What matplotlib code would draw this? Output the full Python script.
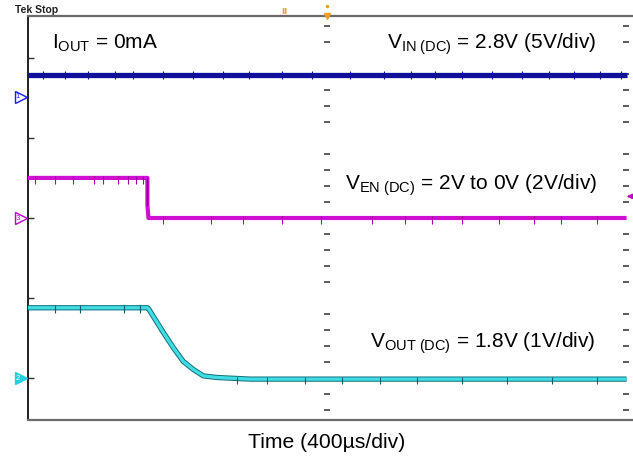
import numpy as np
import matplotlib.pyplot as plt
from matplotlib import transforms

plt.rcParams['font.family'] = ['Liberation Sans', 'DejaVu Sans']
plt.rcParams['mathtext.fontset'] = 'custom'
plt.rcParams['mathtext.rm'] = 'Liberation Sans'
plt.rcParams['mathtext.it'] = 'Liberation Sans'

# time base: 400 us/div, screen positions in divisions
t_vin = [-2000, 2000]
vin_div = [1.78, 1.78]

t_en = [-2000, -1202, -1202, -1195, 2000]
en_div = [0.50, 0.50, 0.16, 0.0, 0.0]

t_out = [-2000, -1202, -1195, -1162, -1095, -1028, -962, -895, -828, -735, -514, 2000]
out_div = [-1.12, -1.12, -1.13, -1.23, -1.43, -1.62, -1.79, -1.89, -1.97, -1.99, -2.01, -2.01]

# hand-read glitch positions (us) on each trace
vin_glitch = [-1900, -1750, -1600, -1420, -1300, -1100, -900, -700, -520, -300, -100, 150,
              380, 560, 720, 900, 1100, 1300, 1480, 1650, 1820, 1960]
en_glitch = [-1950, -1820, -1700, -1560, -1500, -1400, -1330, -1280, -1230,
             -1100, -780, -560, -300, -40, 300, 520, 700, 900, 1150, 1380, 1560, 1800]
out_glitch = [-1820, -1650, -1360, -1250, -600, -400, -150, 100, 350, 600, 900, 1200, 1500, 1800]

ch_markers = {'1': (1.51, '#1a1aff'), '3': (0.0, '#c000c0'), '2': (-2.0, '#20d0e0')}

fig = plt.figure(figsize=(6.33, 4.59), dpi=100)
ax = fig.add_axes([28 / 633, 39 / 459, 605 / 633, 404 / 459])
ax.set_xlim(-2000, 2043)
ax.set_ylim(-2.52, 2.52)

# traces
ax.plot(t_vin, vin_div, color='#10109c', lw=3.8, solid_capstyle='butt', zorder=3)
ax.vlines(vin_glitch, 1.74, 1.83, color='#10109c', lw=0.8, zorder=3)

ax.plot(t_en, en_div, color='#d010d0', lw=3.0, solid_capstyle='butt', zorder=3)
ax.plot(t_en[1:3], en_div[1:3], color='#700070', lw=1.0, zorder=4)
for g in en_glitch:
    lvl = 0.5 if g < -1202 else 0.0
    ax.vlines(g, lvl - 0.07, lvl + 0.03, color='#a000a0', lw=0.8, zorder=3)

ax.plot(t_out, out_div, color='#10707a', lw=3.8, solid_capstyle='butt', zorder=3)
ax.plot(t_out, out_div, color='#40dce4', lw=2.4, solid_capstyle='butt', zorder=3)
for g in out_glitch:
    lvl = -1.12 if g < -1202 else -2.01
    ax.vlines(g, lvl - 0.06, lvl + 0.03, color='#10606a', lw=0.8, zorder=3)

# graticule ticks on centre line and right edge
minor = [v for v in np.arange(-2.4, 2.41, 0.2) if abs(v - round(v)) > 0.05]
for xc in [0, 1995]:
    ax.plot([xc] * len(minor), minor, ls='none', marker='_', ms=4, mew=1.2,
            color='#404040', zorder=2)

ax.set_xticks([])
ax.set_yticks([-2, -1, 0, 1, 2])
ax.tick_params(axis='y', direction='in', length=4, width=1, color='#303030', labelleft=False)

ax.spines['right'].set_visible(False)
ax.spines['left'].set_color('#202020')
ax.spines['left'].set_linewidth(1.4)
ax.spines['top'].set_color('#6a6a6a')
ax.spines['top'].set_linewidth(1.6)
ax.spines['bottom'].set_color('#6a6a6a')
ax.spines['bottom'].set_linewidth(1.6)

# channel ground markers
tr = transforms.blended_transform_factory(ax.transAxes, ax.transData)
for name, (lvl, col) in ch_markers.items():
    filled = name == '2'
    ax.plot(-0.012, lvl, marker='>', ms=8, mfc=col if filled else 'white', mec=col,
            mew=1, transform=tr, clip_on=False, zorder=5)
    ax.text(-0.017, lvl, name, transform=tr, ha='center', va='center', fontsize=5.5,
            color='white' if filled else col, clip_on=False, zorder=6)
ax.annotate('', xy=(0.985, 0.27), xytext=(1.0, 0.27), xycoords=('axes fraction', 'data'),
            arrowprops=dict(arrowstyle='-|>', color='#c000c0', lw=1.2, mutation_scale=7))

# trigger markers at top
ax.plot(0, 2.52, marker='v', ms=4, color='#f0a020', clip_on=False, zorder=6)
ax.plot(0, 2.64, marker='.', ms=3, color='#f0a020', clip_on=False, zorder=6)
ax.text(-287, 2.58, 'ıı', color='#f0a020', fontsize=8, fontweight='bold',
        ha='center', va='center', clip_on=False)
fig.text(15 / 633, 1 - 10 / 459, 'Tek Stop', fontsize=7.5, fontweight='bold', va='center',
         color='#202020')

# annotations
ax.text(-1840, 2.18, r'I$_{\mathrm{OUT}}$ = 0mA', fontsize=15, ha='left', va='center')
ax.text(1800, 2.17, r'V$_{\mathrm{IN\ (DC)}}$ = 2.8V (5V/div)', fontsize=15, ha='right', va='center')
ax.text(1800, 0.41, r'V$_{\mathrm{EN\ (DC)}}$ = 2V to 0V (2V/div)', fontsize=15, ha='right', va='center')
ax.text(1790, -1.56, r'V$_{\mathrm{OUT\ (DC)}}$ = 1.8V (1V/div)', fontsize=15, ha='right', va='center')

fig.text(327 / 633, 1 - 443 / 459, 'Time (400µs/div)', fontsize=15.2, ha='center', va='center')

fig.savefig('out.png', dpi=100)
